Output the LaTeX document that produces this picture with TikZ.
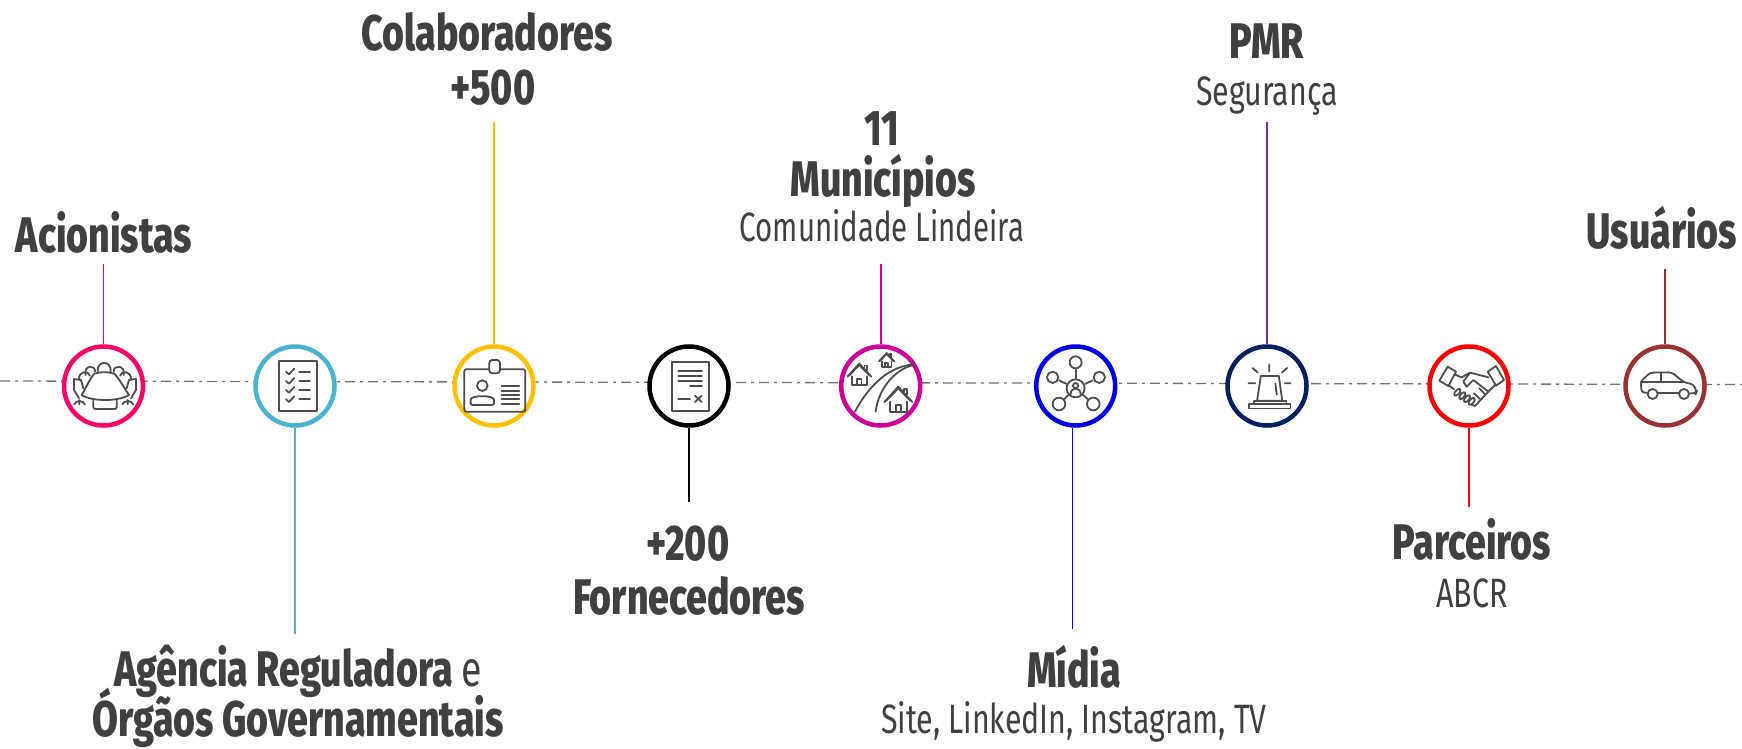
\documentclass[tikz,border=0pt]{standalone}
\usepackage{graphicx}
\usepackage{fontspec}
\setmainfont{Fira Sans}
\newfontfamily\hr[FakeStretch=0.75,BoldFont={Fira Sans ExtraBold}]{Fira Sans}
\newfontfamily\hs[FakeStretch=0.74]{Fira Sans}
\definecolor{ink}{HTML}{404040}
\definecolor{ico}{HTML}{4D4D4D}
\definecolor{cpink}{HTML}{FF0066}
\definecolor{cteal}{HTML}{4BB3CF}
\definecolor{cyel}{HTML}{FFC000}
\definecolor{cmag}{HTML}{CC0099}
\definecolor{cblue}{HTML}{0000E6}
\definecolor{cnavy}{HTML}{002060}
\definecolor{cpurp}{HTML}{7030A0}
\definecolor{cbrown}{HTML}{993333}
\tikzset{
 ring/.style={circle,draw=#1,line width=4.5pt,minimum size=79pt,inner sep=0pt,fill=white},
 conn/.style={draw=#1,line width=1.6pt},
 tb/.style={anchor=base,text=ink,inner sep=0pt,font=\hr\bfseries\fontsize{50}{50}\selectfont},
 tr/.style={anchor=base,text=ink,inner sep=0pt,font=\hs\fontsize{41}{41}\selectfont},
 za/.style={shift={(40pt,-320pt)},x=.3333pt,y=-.3333pt},
 zb/.style={shift={(630pt,-320pt)},x=.3333pt,y=-.3333pt},
 zc/.style={shift={(1200pt,-317.9pt)},x=.3457pt,y=-.3457pt},
 zd/.style={shift={(1420pt,-330pt)},x=.3333pt,y=-.3333pt},
 ze/.style={shift={(1610pt,-330pt)},x=.3333pt,y=-.3333pt},
 zf/.style={shift={(55pt,-335pt)},x=.3333pt,y=-.3333pt},
 ic/.style={draw=ico,line width=1.8pt,line join=round,line cap=round},
}
\newcommand{\hous}[3]{% apex x, apex y, scale
 \begin{scope}[shift={(#1,#2)},scale=#3]
  \draw[ic] (-36,37)--(0,0)--(36,37);
  \draw[ic] (-42,41)--(0,-5)--(42,41);
  \draw[ic] (-26,40)--(-26,72)--(26,72)--(26,40);
  \draw[ic] (-8,72)--(-8,50)--(8,50)--(8,72);
  \draw[ic] (18,10)--(18,2)--(26,2)--(26,18);
 \end{scope}}
\begin{document}
\begin{tikzpicture}[x=1pt,y=-1pt]
\useasboundingbox[fill=white] (0,0) rectangle (1742,749);
\coordinate (La) at (0,381); \coordinate (Lb) at (1742,384.5);
\draw[draw=gray!90!black,line width=1.3pt,dash pattern=on 10pt off 5pt on 3pt off 5pt] (La)--(Lb);
% rings
\node[ring=cpink] (n1) at (103.5,386) {};
\node[ring=cteal] (n2) at (295,386) {};
\node[ring=cyel] (n3) at (494,386) {};
\node[ring=black] (n4) at (689,386) {};
\node[ring=cmag] (n5) at (880.7,386) {};
\node[ring=cblue] (n6) at (1075.7,386) {};
\node[ring=cnavy] (n7) at (1267,386) {};
\node[ring=red] (n8) at (1469,386) {};
\node[ring=cbrown] (n9) at (1665,386) {};
% connectors
\coordinate (e1) at (103.5,264); \coordinate (e2) at (295,634); \coordinate (e3) at (494,122);
\coordinate (e4) at (689,502); \coordinate (e5) at (880.7,264); \coordinate (e6) at (1072.5,629);
\coordinate (e7) at (1267,122); \coordinate (e8) at (1469,507); \coordinate (e9) at (1665,269);
\draw[conn=cpink] (e1)--(n1);
\draw[conn=cteal] (e2)--(n2);
\draw[conn=cyel] (e3)--(n3);
\draw[conn=black] (e4)--(n4);
\draw[conn=cmag] (e5)--(n5);
\draw[conn=cblue] (e6)--(e6 |- n6.south);
\draw[conn=cpurp] (e7)--(n7);
\draw[conn=red] (e8)--(n8);
\draw[conn=cbrown] (e9)--(n9);
% icon 1
\begin{scope}[zf]
 \draw[ic] (80,180) .. controls (95,155) and (105,130) .. (118,116) .. controls (135,110) and (160,110) .. (178,116) .. controls (192,130) and (205,155) .. (222,180) .. controls (190,200) and (110,200) .. (80,180) -- cycle;
 \draw[ic] (128,110) .. controls (125,75) and (170,75) .. (167,110);
 \draw[ic] (92,120) .. controls (85,90) and (122,88) .. (120,110);
 \draw[ic] (176,110) .. controls (175,88) and (212,90) .. (206,120);
 \draw[ic] (72,134) .. controls (70,108) and (100,105) .. (105,122);
 \draw[ic] (195,122) .. controls (200,105) and (230,108) .. (228,134);
 \draw[ic] (85,160)--(78,135)--(57,132)--(57,165)--(72,190);
 \draw[ic] (215,160)--(222,135)--(243,132)--(243,165)--(228,190);
 \draw[ic,rounded corners=2pt] (115,197)--(115,222)--(185,222)--(185,197);
 \draw[ic] (58,208) .. controls (62,195) and (84,195) .. (90,208) (73,195)--(73,208);
 \draw[ic] (202,208) .. controls (207,195) and (230,195) .. (235,208) (218,195)--(218,208);
\end{scope}
% icon 2
\begin{scope}[za]
 \draw[ic] (718,122) rectangle (830,272);
 \foreach \y in {155,183,210,238}{
  \draw[ic] (738,\y)--(747,\y+8)--(763,\y-9);
  \draw[ic] (778,\y)--(810,\y);
 }
\end{scope}
% icon 3
\begin{scope}[za]
 \draw[ic,rounded corners=2pt] (1273,148) rectangle (1456,275);
 \draw[ic,fill=white,rounded corners=3pt] (1348,120) rectangle (1380,160);
 \draw[ic] (1327,197) circle (16);
 \draw[ic,rounded corners=2pt] (1292,255) -- (1292,245) .. controls (1292,225) and (1362,225) .. (1362,245) -- (1362,255) -- cycle;
 \foreach \y in {197,212,225,238,253}{\draw[ic] (1385,\y)--(1438,\y);}
\end{scope}
% icon 4
\begin{scope}[zb]
 \draw[ic] (125,125) rectangle (236,272);
 \foreach \y in {153,168,184}{\draw[ic] (145,\y)--(216,\y);}
 \draw[ic] (180,199)--(216,199);
 \draw[ic] (145,236)--(180,236);
 \draw[ic] (195,227)--(215,246) (215,227)--(195,246);
\end{scope}
% icon 5
\begin{scope}[zb]
 \hous{688}{135}{0.85}
 \hous{770}{102}{0.55}
 \hous{805}{205}{1}
 \draw[ic] (675,275) .. controls (720,190) and (780,140) .. (850,133);
 \draw[ic] (737,275) .. controls (745,210) and (790,150) .. (850,135);
\end{scope}
% icon 6
\begin{scope}[zb]
 \coordinate (h) at (1337,205);
 \draw[ic] (h) circle (27);
 \draw[ic] (1337,197) circle (8);
 \draw[ic] (1322,223) .. controls (1322,200) and (1352,200) .. (1352,223);
 \foreach \a/\b/\r in {1337/127/18,1268/172/17,1408/172/17,1287/252/19,1390/252/19}{
  \draw[ic] (\a,\b) circle (\r);
  \path (h) -- (\a,\b) coordinate[pos=.40] (p) coordinate[pos=.72] (q);
  \draw[ic] (p)--(q);
 }
\end{scope}
% icon 7
\begin{scope}[zc]
 \draw[ic] (176,168)--(228,168)--(238,240)--(165,240)--cycle;
 \draw[ic] (218,190)--(222,222);
 \draw[ic] (155,240)--(250,240)--(250,250)--(155,250)--cycle;
 \draw[ic] (142,250)--(262,250)--(262,262)--(142,262)--cycle;
 \draw[ic] (200,135)--(200,155) (152,145)--(167,158) (252,145)--(237,158) (140,189)--(160,189) (245,189)--(262,189);
\end{scope}
% icon 8
\begin{scope}[zd]
 \draw[ic] (58,152)--(83,110)--(108,125)--(85,168)--cycle;
 \draw[ic] (203,125)--(228,108)--(252,150)--(228,167)--cycle;
 \draw[ic] (103,133)--(125,142)--(150,128)--(205,142);
 \draw[ic] (150,128)--(130,155)--(140,170)--(160,150)--(205,185);
 \draw[ic] (225,165)--(205,185)--(165,228)--(150,222);
 \draw[ic] (85,165)--(102,178);
 \draw[ic] (162,190)--(180,207) (178,175)--(195,193);
 \foreach \cx/\cy in {112/187,127/197,141/206,155/214}{
  \draw[ic,rounded corners=2.5pt,fill=white] (\cx+12.3,\cy-5.4)--(\cx+3.1,\cy-13)--(\cx-12.3,\cy+5.4)--(\cx-3.1,\cy+13)--cycle;
 }
\end{scope}
% icon 9
\begin{scope}[ze]
 \draw[ic,rounded corners=3pt] (113,188)--(95,188)--(92,155)--(120,128)--(185,127)--(222,157)--(250,163)--(260,185)--(258,190)--(240,190);
 \draw[ic] (92,157)--(222,157) (153,127)--(153,157);
 \draw[ic] (128,192) circle (15) (222,192) circle (15);
 \draw[ic] (143,190)--(207,190);
\end{scope}
% labels
\node[tb] (t1) at (104,252) {Acionistas};
\node[tb] (t2a) at (298,686) {Agência Reguladora {\mdseries e}};
\node[tb] (t2b) at (298,736.5) {Órgãos Governamentais};
\node[tb] (t3a) at (487,51) {Colaboradores};
\node[tb] (t3b) at (493,105) {+500};
\node[tb] (t4a) at (688,560) {+200};
\node[tb] (t4b) at (689,614) {Fornecedores};
\node[tb] (t5a) at (882,146) {11};
\node[tb] (t5b) at (883,196) {Municípios};
\node[tr] (t5c) at (882,241) {\scalebox{.97}[1]{Comunidade Lindeira}};
\node[tb] (t6a) at (1074,687) {Mídia};
\node[tr] (t6b) at (1074,733) {Site, LinkedIn, Instagram, TV};
\node[tb] (t7a) at (1267,59) {PMR};
\node[tr] (t7b) at (1267,106) {Segurança};
\node[tb] (t8a) at (1472,559) {Parceiros};
\node[tr] (t8b) at (1472,607) {ABCR};
\node[tb] (t9) at (1662,248) {Usuários};
\end{tikzpicture}
\end{document}
